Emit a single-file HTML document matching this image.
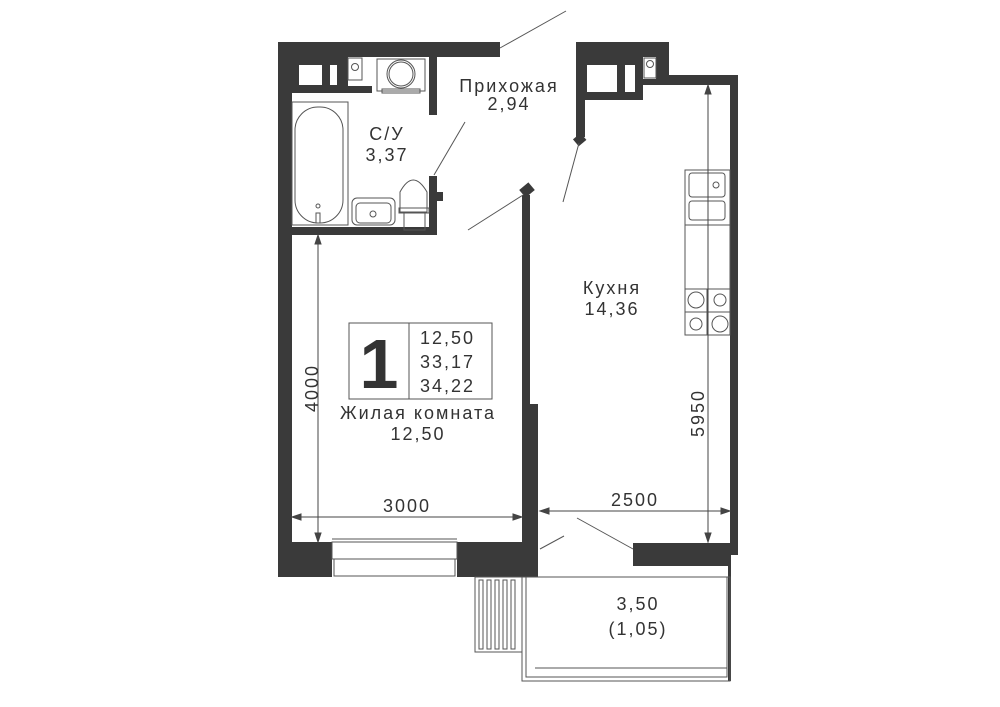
<!DOCTYPE html>
<html><head><meta charset="utf-8"><style>
html,body{margin:0;padding:0;background:#fff;width:1000px;height:707px;overflow:hidden}
svg{display:block}
text{font-family:"Liberation Sans","DejaVu Sans",sans-serif;fill:#333;letter-spacing:2px;font-size:18px}
</style></head><body>
<svg width="1000" height="707" viewBox="0 0 1000 707" xmlns="http://www.w3.org/2000/svg">
<g fill="#3a3a3a">
<rect x="278" y="42" width="222" height="15"/>
<rect x="278" y="42" width="14" height="535"/>
<rect x="278" y="57" width="70" height="36"/>
<rect x="347" y="86" width="25" height="7"/>
<rect x="429" y="57" width="8" height="58"/>
<rect x="429" y="176" width="8" height="59"/>
<rect x="437" y="192" width="6" height="9"/>
<rect x="292" y="227" width="145" height="8"/>
<rect x="278" y="542" width="54" height="35"/>
<rect x="457" y="542" width="81" height="35"/>
<rect x="522" y="195" width="8" height="347"/>
<rect x="522" y="404" width="16" height="140"/>
<rect x="521" y="185" width="12" height="10" transform="rotate(-40 527 190)"/>
<rect x="576" y="42" width="93" height="15"/>
<rect x="576" y="42" width="67" height="58"/>
<rect x="643" y="57" width="26" height="28"/>
<rect x="643" y="75" width="95" height="10"/>
<rect x="576" y="100" width="9" height="37"/>
<rect x="575" y="135" width="10" height="9" transform="rotate(-40 580 140)"/>
<rect x="730" y="75" width="8" height="480"/>
<rect x="633" y="543" width="97" height="23"/>
<rect x="728" y="555" width="3" height="126"/>
</g>
<g fill="#fff">
<rect x="299" y="65" width="23" height="20"/>
<rect x="330" y="65" width="7" height="20"/>
<rect x="587" y="65" width="30" height="27"/>
<rect x="625" y="65" width="10" height="27"/>
<rect x="643" y="57" width="13" height="22"/>
</g>
<g fill="none" stroke="#555" stroke-width="1">
<rect x="348" y="58" width="14" height="22"/>
<circle cx="355" cy="67" r="3.5"/>
<rect x="644" y="58" width="12" height="20"/>
<circle cx="650" cy="64" r="3.5"/>
<rect x="377" y="59" width="48" height="32"/>
<circle cx="401" cy="74" r="14"/><circle cx="401" cy="74" r="12"/>
<rect x="382" y="89" width="38" height="4"/>
<rect x="292" y="102" width="56" height="123"/>
<rect x="295" y="107" width="48" height="116" rx="23"/>
<circle cx="318" cy="206" r="2"/>
<rect x="316" y="213" width="4" height="10"/>
<rect x="352" y="198" width="43" height="27" rx="5"/>
<rect x="356" y="203" width="35" height="20" rx="4"/>
<circle cx="373" cy="214" r="3"/>
<path d="M400 212 L400 192 Q413 168 427 192 L427 212 Z"/>
<rect x="399" y="208" width="30" height="5"/>
<rect x="404" y="213" width="21" height="17"/>
<line x1="500" y1="48" x2="566" y2="11"/>
<line x1="434" y1="175" x2="465" y2="122"/>
<line x1="468" y1="230" x2="523" y2="195"/>
<line x1="579" y1="143" x2="563" y2="202"/>
<line x1="540" y1="549" x2="564" y2="536"/>
<line x1="577" y1="518" x2="633" y2="549"/>
<line x1="332" y1="539" x2="457" y2="539"/>
<rect x="332" y="542" width="125" height="17"/>
<rect x="334" y="559" width="121" height="17"/>
<rect x="685" y="170" width="45" height="165"/>
<rect x="689" y="173" width="36" height="24" rx="3"/>
<rect x="689" y="201" width="36" height="19" rx="3"/>
<circle cx="716" cy="185" r="3"/>
<line x1="685" y1="225" x2="730" y2="225"/>
<line x1="685" y1="289" x2="730" y2="289"/>
<line x1="707" y1="289" x2="707" y2="335"/>
<line x1="685" y1="312" x2="730" y2="312"/>
<circle cx="696" cy="300" r="8"/><circle cx="720" cy="300" r="6"/>
<circle cx="696" cy="324" r="6"/><circle cx="720" cy="324" r="8"/>
<rect x="522" y="577" width="208" height="104"/>
<rect x="526" y="577" width="201" height="100"/>
<line x1="535" y1="668" x2="727" y2="668"/>
<rect x="475" y="577" width="47" height="75"/>
<rect x="479" y="580" width="4" height="69"/><rect x="487" y="580" width="4" height="69"/>
<rect x="495" y="580" width="4" height="69"/><rect x="503" y="580" width="4" height="69"/>
<rect x="511" y="580" width="4" height="69"/>
<rect x="349" y="323" width="143" height="76"/>
<line x1="409" y1="323" x2="409" y2="399"/>
</g>
<g stroke="#444" stroke-width="1" fill="#444">
<line x1="318" y1="240" x2="318" y2="540"/>
<path d="M318 235 l-3 9 h6z M318 542 l-3 -9 h6z"/>
<line x1="294" y1="517" x2="520" y2="517"/>
<path d="M292 517 l9 -3 v6z M522 517 l-9 -3 v6z"/>
<line x1="542" y1="511" x2="728" y2="511"/>
<path d="M540 511 l9 -3 v6z M730 511 l-9 -3 v6z"/>
<line x1="708" y1="87" x2="708" y2="540"/>
<path d="M708 85 l-3 9 h6z M708 542 l-3 -9 h6z"/>
</g>
<text x="509" y="92" text-anchor="middle">Прихожая</text>
<text x="509" y="110" text-anchor="middle">2,94</text>
<text x="387" y="140" text-anchor="middle">С/У</text>
<text x="387" y="161" text-anchor="middle">3,37</text>
<text x="612" y="294" text-anchor="middle">Кухня</text>
<text x="612" y="315" text-anchor="middle">14,36</text>
<text x="379" y="388" font-size="70" font-weight="bold" text-anchor="middle" style="letter-spacing:0;font-size:70px">1</text>
<text x="420" y="344">12,50</text>
<text x="420" y="368">33,17</text>
<text x="420" y="392">34,22</text>
<text x="418" y="419" text-anchor="middle">Жилая комната</text>
<text x="418" y="440" text-anchor="middle">12,50</text>
<text x="407" y="512" text-anchor="middle">3000</text>
<text x="635" y="506" text-anchor="middle">2500</text>
<text x="638" y="610" text-anchor="middle">3,50</text>
<text x="638" y="635" text-anchor="middle">(1,05)</text>
<text transform="translate(318 388) rotate(-90)" text-anchor="middle">4000</text>
<text transform="translate(704 413) rotate(-90)" text-anchor="middle">5950</text>
</svg>
</body></html>
